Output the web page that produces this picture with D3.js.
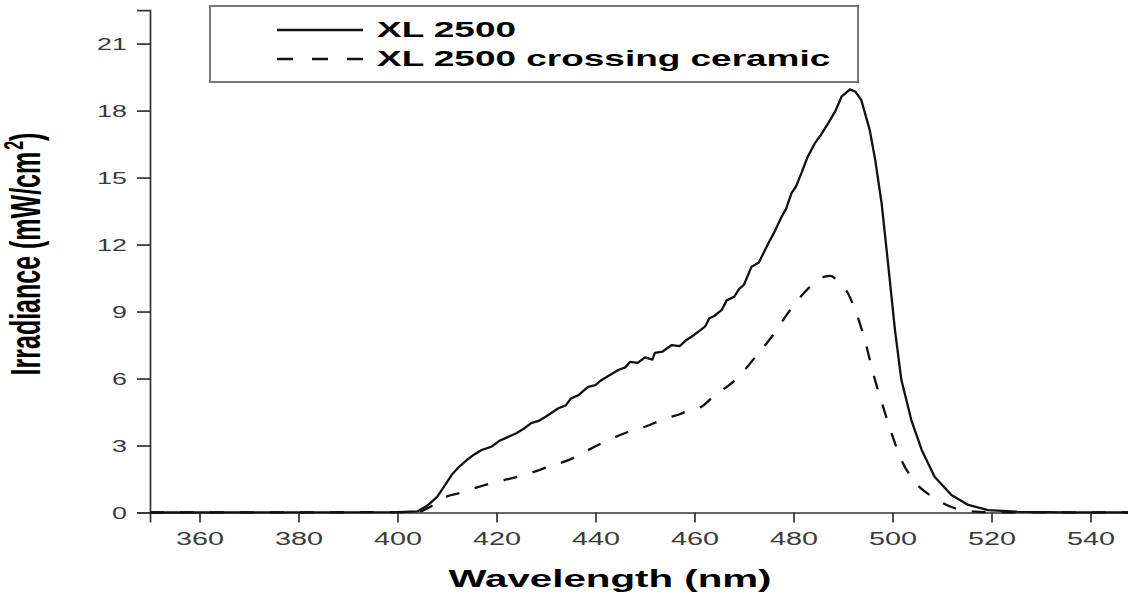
<!DOCTYPE html>
<html>
<head>
<meta charset="utf-8">
<script src="https://cdn.jsdelivr.net/npm/d3@7"></script>
<style>
  body { margin: 0; background: #fff; }
  svg { display: block; font-family: "Liberation Sans", Arial, sans-serif; }
</style>
</head>
<body>
<svg id="chart" width="1128" height="598"></svg>
<script>
// wavelength (nm) / irradiance (mW/cm2)
const solidNm = [350, 400, 404, 406, 408, 409.6, 411, 412.3, 414, 415.5, 417, 419, 420.5, 421.7, 424, 425.5, 427, 428.5, 430, 432.5, 434, 435, 436.5, 438.5, 440, 441, 442.5, 444.6, 446, 447, 448.5, 450, 451.5, 452, 453.5, 455.4, 457, 458.2, 459.4, 461.4, 462.2, 463, 464, 465.5, 466.5, 468, 469, 470, 471.5, 473, 474.9, 476, 477.6, 478.5, 479.6, 480.5, 481.6, 482.8, 484.3, 485.5, 487, 488.5, 489.7, 491.4, 492.5, 493.7, 495.4, 496.5, 497.8, 499.1, 500.5, 501.8, 503.8, 505.9, 508.5, 511.9, 515.3, 519.3, 525, 535, 550];
const solidVal = [0, 0.02, 0.05, 0.3, 0.7, 1.23, 1.7, 2.02, 2.35, 2.6, 2.8, 2.95, 3.2, 3.32, 3.55, 3.75, 4.0, 4.1, 4.3, 4.67, 4.8, 5.1, 5.25, 5.63, 5.7, 5.9, 6.1, 6.38, 6.5, 6.75, 6.7, 6.95, 6.85, 7.15, 7.2, 7.5, 7.45, 7.7, 7.87, 8.2, 8.35, 8.7, 8.8, 9.07, 9.5, 9.66, 10.0, 10.2, 11.0, 11.2, 12.05, 12.5, 13.25, 13.6, 14.3, 14.6, 15.2, 15.9, 16.53, 16.9, 17.43, 18.0, 18.62, 18.95, 18.85, 18.47, 17.13, 15.8, 13.85, 11.16, 8.17, 5.93, 4.14, 2.8, 1.6, 0.78, 0.34, 0.11, 0.04, 0.01, 0];

const dashedNm = [350, 404, 407, 409.9, 412.3, 415, 418.3, 421, 425.1, 428, 431.1, 434, 436.5, 439, 441.9, 445.9, 450, 454.3, 457, 459.4, 461.4, 464.1, 467.5, 469.5, 472.9, 475.6, 477.9, 480.9, 483, 486.3, 487.5, 489, 491, 492.7, 494.4, 496.1, 498.1, 499.8, 501.8, 504.5, 508.5, 512.6, 516, 520, 550];
const dashedVal = [0, 0.02, 0.3, 0.71, 0.86, 1.05, 1.27, 1.42, 1.65, 1.85, 2.1, 2.3, 2.55, 2.85, 3.17, 3.55, 3.84, 4.22, 4.4, 4.62, 4.74, 5.26, 5.79, 6.23, 7.13, 7.87, 8.62, 9.52, 10.04, 10.56, 10.6, 10.34, 9.82, 8.92, 7.73, 6.23, 4.74, 3.55, 2.35, 1.38, 0.64, 0.19, 0.05, 0.01, 0];

const xMajor = [360, 380, 400, 420, 440, 460, 480, 500, 520, 540];
const xMinor = [350, 370, 390, 410, 430, 450, 470, 490, 510, 530, 550];
const yMajor = [0, 3, 6, 9, 12, 15, 18, 21];
const yMinor = [1.5, 4.5, 7.5, 10.5, 13.5, 16.5, 19.5, 22.5];
const seriesNames = ["XL 2500", "XL 2500 crossing ceramic"];

const SX = 1.68; // the source picture is stretched sideways, so text is too

const svg = d3.select("#chart");
const x = d3.scaleLinear().domain([350, 550]).range([150, 1140]);
const y = d3.scaleLinear().domain([0, 22.5]).range([512.5, 10.1]);

// axes
const axisColor = "#333";
const gx = svg.append("g").attr("transform", "translate(0,512.5)");
gx.call(d3.axisBottom(x).tickValues(xMinor).tickSize(5).tickFormat(""));
gx.call(d3.axisBottom(x).tickValues(xMajor).tickSize(10).tickFormat(d => d));
const gy = svg.append("g").attr("transform", "translate(150,0)");
gy.call(d3.axisLeft(y).tickValues(yMinor).tickSize(8).tickFormat(""));
gy.call(d3.axisLeft(y).tickValues(yMajor).tickSize(13).tickFormat(d => d));

svg.selectAll(".domain").attr("stroke", axisColor).attr("stroke-width", 1.7);
svg.selectAll(".tick line").attr("stroke", axisColor).attr("stroke-width", 1.7);

gx.selectAll(".tick text")
    .attr("x", 0).attr("y", 0).attr("dy", null)
    .attr("transform", `translate(0,32) scale(${SX - 0.08},1)`)
    .attr("font-size", 18)
    .attr("fill", "#3a3a3a");
gy.selectAll(".tick text")
    .attr("x", 0).attr("dy", "0.36em")
    .attr("transform", `translate(-23,0) scale(${SX},1)`)
    .attr("font-size", 16)
    .attr("fill", "#3a3a3a");

// axis titles
svg.append("text")
    .attr("transform", `translate(610,587) scale(${SX},1)`)
    .attr("text-anchor", "middle")
    .attr("font-size", 24)
    .attr("font-weight", "bold")
    .text("Wavelength (nm)");

const yTitle = svg.append("text")
    .attr("transform", `translate(40,254) scale(${SX},1) rotate(-90)`)
    .attr("text-anchor", "middle")
    .attr("font-size", 25)
    .attr("font-weight", "bold");
yTitle.append("tspan").text("Irradiance (mW/cm");
yTitle.append("tspan").attr("font-size", 16).attr("dy", -10).attr("dx", 2).text("2");
yTitle.append("tspan").attr("dy", 10).text(")");

// curves
const solid = solidNm.map((d, i) => ({ nm: d, v: solidVal[i] }));
const dashed = dashedNm.map((d, i) => ({ nm: d, v: dashedVal[i] }));

svg.append("path")
    .datum(dashed)
    .attr("fill", "none")
    .attr("stroke", "#111")
    .attr("stroke-width", 2.3)
    .attr("stroke-dasharray", "14,16")
    .attr("d", d3.line().x(d => x(d.nm)).y(d => y(d.v)).curve(d3.curveMonotoneX));

svg.append("path")
    .datum(solid)
    .attr("fill", "none")
    .attr("stroke", "#111")
    .attr("stroke-width", 2.3)
    .attr("stroke-linejoin", "round")
    .attr("d", d3.line().x(d => x(d.nm)).y(d => y(d.v)));

// legend
const legend = svg.append("g");
legend.append("rect")
    .attr("x", 210).attr("y", 6)
    .attr("width", 648).attr("height", 76)
    .attr("fill", "#fff")
    .attr("stroke", "#777")
    .attr("stroke-width", 2);

const rows = [30, 59];
seriesNames.forEach((name, i) => {
    legend.append("line")
        .attr("x1", 277).attr("x2", 363)
        .attr("y1", rows[i]).attr("y2", rows[i])
        .attr("stroke", "#111")
        .attr("stroke-width", 2.3)
        .attr("stroke-dasharray", i === 1 ? "16,19" : null);
    legend.append("text")
        .attr("transform", `translate(377,${rows[i] + 7}) scale(${SX},1)`)
        .attr("font-size", 22)
        .attr("font-weight", "bold")
        .text(name);
});
</script>
</body>
</html>
